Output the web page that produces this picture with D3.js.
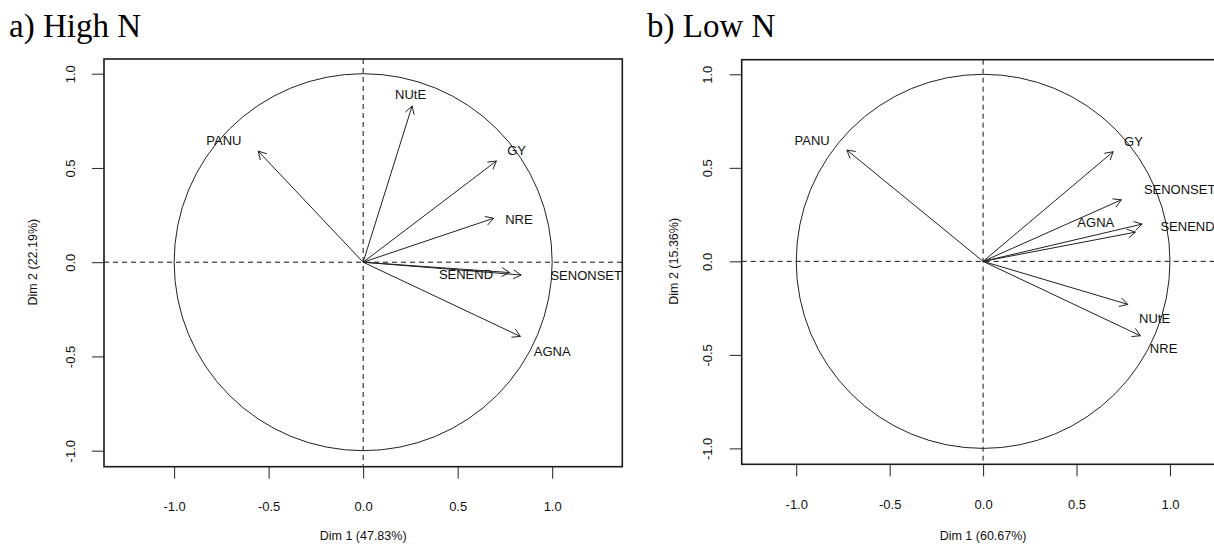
<!DOCTYPE html>
<html lang="en">
<head>
    <meta charset="UTF-8">
    <title>PCA variable plots - High N / Low N</title>
    <style>
    body { margin: 0; background-color: white; }
    svg { display: block; }
    .tick text, .lab, .axtitle { font-family: "Liberation Sans", Arial, sans-serif; fill: #111; }
    .title { font-family: "Liberation Serif", "Times New Roman", serif; fill: #000; }
    </style>
    <script src="https://cdn.jsdelivr.net/npm/d3@7"></script>
</head>
<body>
    <svg width="1214" height="545"></svg>
    <script>

        // ---- data ----
        var panelTitles = ["a) High N", "b) Low N"];
        var xTitles = ["Dim 1 (47.83%)", "Dim 1 (60.67%)"];
        var yTitles = ["Dim 2 (22.19%)", "Dim 2 (15.36%)"];
        var tickValues = [-1.0, -0.5, 0.0, 0.5, 1.0];

        // High N
        var varsHigh  = ["PANU", "NUtE", "GY", "NRE", "SENEND", "SENONSET", "AGNA"];
        var dim1High  = [-0.555, 0.259, 0.705, 0.690, 0.775, 0.836, 0.832];
        var dim2High  = [ 0.589, 0.829, 0.537, 0.233, -0.055, -0.068, -0.394];
        var labXHigh  = [-0.737, 0.251, 0.812, 0.824, 0.544, 1.18, 1.0];
        var labYHigh  = [ 0.647, 0.888, 0.594, 0.229, -0.066, -0.07, -0.475];

        // Low N
        var varsLow   = ["PANU", "GY", "SENONSET", "SENEND", "AGNA", "NUtE", "NRE"];
        var dim1Low   = [-0.729, 0.696, 0.740, 0.851, 0.815, 0.774, 0.842];
        var dim2Low   = [ 0.595, 0.586, 0.329, 0.199, 0.156, -0.230, -0.398];
        var labXLow   = [-0.915, 0.805, 1.052, 1.094, 0.603, 0.918, 0.966];
        var labYLow   = [ 0.645, 0.640, 0.385, 0.184, 0.208, -0.306, -0.466];

        var svg = d3.select("svg");
        var fmt = d3.formatLocale({decimal: ".", thousands: ",", grouping: [3], currency: ["", ""], minus: "-"}).format(".1f");

        var panels = [
            {left: 104, right: 622.3, top: 59, bottom: 466.7, xdom: 1.371, ydom: [-1.085, 1.078],
             titleX: 9, yTitleX: 33,
             vars: varsHigh, d1: dim1High, d2: dim2High, lx: labXHigh, ly: labYHigh},
            {left: 741.7, right: 1224.5, top: 59.7, bottom: 464.3, xdom: 1.292, ydom: [-1.085, 1.078],
             titleX: 647, yTitleX: 673.5,
             vars: varsLow, d1: dim1Low, d2: dim2Low, lx: labXLow, ly: labYLow}
        ];

        panels.forEach(drawPanel);

        function drawPanel(p, i) {
            var x = d3.scaleLinear().domain([-p.xdom, p.xdom]).range([p.left, p.right]);
            var y = d3.scaleLinear().domain(p.ydom).range([p.bottom, p.top]);
            var g = svg.append("g");

            // title
            g.append("text").attr("class", "title")
                .attr("x", p.titleX).attr("y", 37)
                .style("font-size", "33px")
                .text(panelTitles[i]);

            // axes
            var xAxis = g.append("g")
                .attr("transform", "translate(0," + p.bottom + ")")
                .call(d3.axisBottom(x).tickValues(tickValues).tickSize(12).tickFormat(fmt));
            xAxis.select(".domain").remove();
            xAxis.selectAll(".tick line").attr("stroke", "#222");
            xAxis.selectAll(".tick text")
                .attr("y", 40).attr("dy", "0.35em")
                .style("font-size", "13px");

            var yAxis = g.append("g")
                .attr("transform", "translate(" + p.left + ",0)")
                .call(d3.axisLeft(y).tickValues(tickValues).tickSize(12).tickFormat(fmt));
            yAxis.select(".domain").remove();
            yAxis.selectAll(".tick line").attr("stroke", "#222");
            yAxis.selectAll(".tick text")
                .attr("x", null)
                .attr("transform", "translate(-34,0) rotate(-90)")
                .attr("text-anchor", "middle")
                .attr("dy", "0.35em")
                .style("font-size", "13px");

            // axis titles
            g.append("text").attr("class", "axtitle")
                .attr("x", (x(-1) + x(1)) / 2).attr("y", 540)
                .attr("text-anchor", "middle")
                .style("font-size", "12.5px")
                .text(xTitles[i]);
            g.append("text").attr("class", "axtitle")
                .attr("transform", "translate(" + p.yTitleX + "," + y(0) + ") rotate(-90)")
                .attr("text-anchor", "middle")
                .attr("dy", "0.35em")
                .style("font-size", "12.5px")
                .text(yTitles[i]);

            // dashed reference lines
            g.append("line")
                .attr("x1", p.left).attr("x2", p.right)
                .attr("y1", y(0)).attr("y2", y(0))
                .attr("stroke", "#111").attr("stroke-dasharray", "5,4");
            g.append("line")
                .attr("x1", x(0)).attr("x2", x(0))
                .attr("y1", p.top).attr("y2", p.bottom)
                .attr("stroke", "#111").attr("stroke-dasharray", "5,4");

            // unit circle
            g.append("ellipse")
                .attr("cx", x(0)).attr("cy", y(0))
                .attr("rx", x(1) - x(0)).attr("ry", y(0) - y(1))
                .attr("fill", "none").attr("stroke", "#222").attr("stroke-width", 1);

            // arrows
            var idx = d3.range(p.vars.length);
            var arrows = g.selectAll(".arrow").data(idx).enter().append("g").attr("class", "arrow");
            arrows.append("path")
                .attr("d", function(k) { return arrowPath(x(0), y(0), x(p.d1[k]), y(p.d2[k])); })
                .attr("fill", "none").attr("stroke", "#222").attr("stroke-width", 1);

            // labels
            g.selectAll(".lab").data(idx).enter().append("text")
                .attr("class", "lab")
                .attr("x", function(k) { return x(p.lx[k]); })
                .attr("y", function(k) { return y(p.ly[k]); })
                .attr("text-anchor", "middle")
                .attr("dy", "0.35em")
                .style("font-size", "13px")
                .text(function(k) { return p.vars[k]; });

            // box
            g.append("rect")
                .attr("x", p.left).attr("y", p.top)
                .attr("width", p.right - p.left).attr("height", p.bottom - p.top)
                .attr("fill", "none").attr("stroke", "#1a1a1a").attr("stroke-width", 1.6);
        }

        function arrowPath(x0, y0, x1, y1) {
            var a = Math.atan2(y1 - y0, x1 - x0), len = 9, spread = Math.PI / 6;
            var h1x = x1 - len * Math.cos(a - spread), h1y = y1 - len * Math.sin(a - spread);
            var h2x = x1 - len * Math.cos(a + spread), h2y = y1 - len * Math.sin(a + spread);
            return "M" + x0 + "," + y0 + "L" + x1 + "," + y1 +
                   "M" + h1x + "," + h1y + "L" + x1 + "," + y1 + "L" + h2x + "," + h2y;
        }
    </script>
</body>
</html>
